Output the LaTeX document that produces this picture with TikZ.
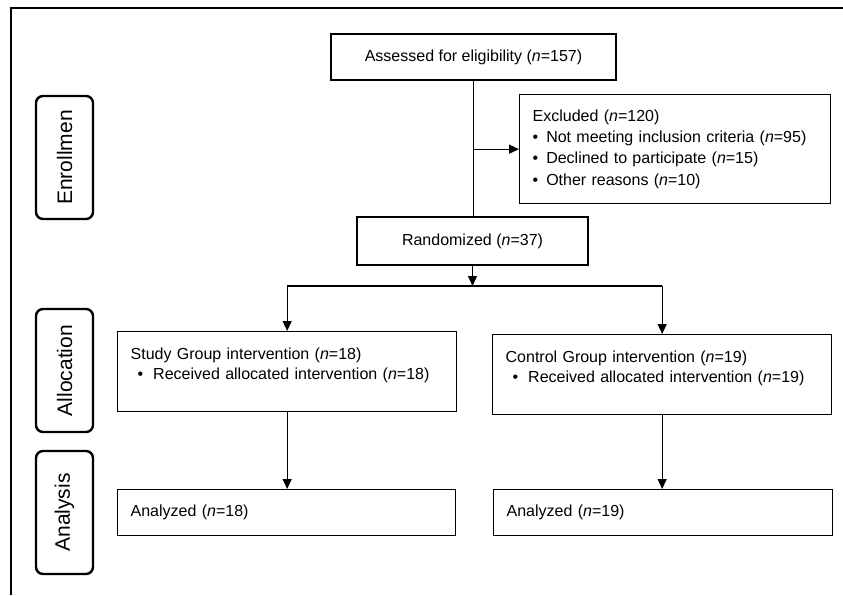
\documentclass[tikz,border=0pt]{standalone}
\usepackage{fontspec}
\setmainfont{Liberation Sans}
\usetikzlibrary{arrows.meta}

\begin{document}
\begin{tikzpicture}[x=1pt, y=-1pt,
  box/.style={draw, line width=1.3pt, inner xsep=13pt, inner ysep=0pt, font=\fontsize{16}{19.5}\selectfont},
  leftbox/.style={box, anchor=north west, align=left, text width=#1},
  phase/.style={draw, line width=2.4pt, rounded corners=7pt, rotate=90, minimum width=123pt, minimum height=57pt, inner sep=0pt, font=\fontsize{21}{25}\selectfont},
  arrow/.style={line width=1.3pt, -{Triangle[length=10pt, width=9pt]}}]

\useasboundingbox (0,0) rectangle (843,595);

% frame
\draw[line width=1.3pt] (11,595) -- (11,8) -- (843,8);

% phases
\node[phase] (enrol) at (64.5,157.5) {Enrollmen};
\node[phase] (alloc) at (64.5,370.5) {Allocation};
\node[phase] (analysis) at (64.5,512.5) {Analysis};

% enrollment
\node[box, minimum width=285pt, minimum height=46pt] (assessed) at (473.5,57) {Assessed for eligibility (\textit{n}=157)};
\node[leftbox=285pt, minimum height=109pt, font=\fontsize{16}{21.3}\selectfont] (excluded) at (519,94) {Excluded (\textit{n}=120)\\
\textbullet\hspace{8pt}Not meeting inclusion criteria (\textit{n}=95)\\
\textbullet\hspace{8pt}Declined to participate (\textit{n}=15)\\
\textbullet\hspace{8pt}Other reasons (\textit{n}=10)};
\node[box, minimum width=231pt, minimum height=48pt] (randomized) at (472.5,241) {Randomized (\textit{n}=37)};

% allocation
\node[leftbox=313pt, minimum height=80pt, text depth=35pt] (study) at (117,331) {Study Group intervention (\textit{n}=18)\\
\hspace*{7pt}\textbullet\hspace{10pt}Received allocated intervention (\textit{n}=18)};
\node[leftbox=313pt, minimum height=80pt, text depth=35pt] (control) at (492,334) {Control Group intervention (\textit{n}=19)\\
\hspace*{7pt}\textbullet\hspace{10pt}Received allocated intervention (\textit{n}=19)};

% analysis
\node[leftbox=312pt, minimum height=46pt] (analyzed1) at (117,489) {Analyzed (\textit{n}=18)};
\node[leftbox=313pt, minimum height=46pt] (analyzed2) at (493,489) {Analyzed (\textit{n}=19)};

% connectors
\coordinate (split) at (randomized.south |- 0,286);
\coordinate (splitl) at (study.north |- split);
\coordinate (splitr) at (control.north |- split);
\draw[line width=1.3pt] (assessed.south) -- (assessed.south |- randomized.north);
\draw[arrow] (assessed.south |- excluded.west) -- (excluded.west);
\draw[arrow] (randomized.south) -- (split);
\draw[line width=1.3pt] (splitl) -- (splitr);
\draw[arrow] (splitl) -- (study.north);
\draw[arrow] (splitr) -- (control.north);
\draw[arrow] (study.south) -- (analyzed1.north -| study.south);
\draw[arrow] (control.south) -- (analyzed2.north -| control.south);

\end{tikzpicture}
\end{document}
